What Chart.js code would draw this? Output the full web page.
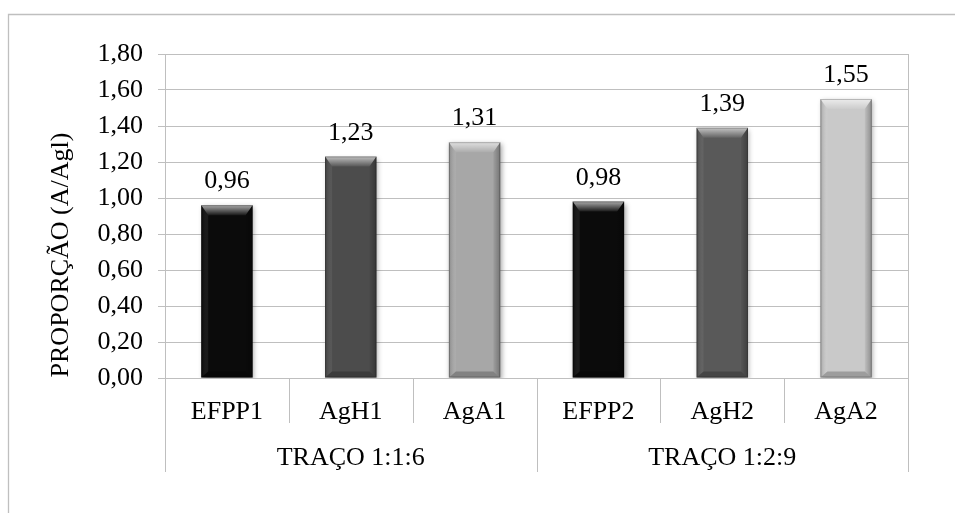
<!DOCTYPE html>
<html>
<head>
<meta charset="utf-8">
<script src="https://cdn.jsdelivr.net/npm/chart.js@4/dist/chart.umd.min.js"></script>
<style>
  html, body { margin: 0; padding: 0; background: #fff; }
  #wrap { width: 955px; height: 513px; position: relative; }
</style>
</head>
<body>
<div id="wrap"><canvas id="c" width="955" height="513"></canvas></div>
<script>
// Mix proportions and their measured A/Agl ratio
const categories = ['EFPP1', 'AgH1', 'AgA1', 'EFPP2', 'AgH2', 'AgA2'];
const groups = ['TRAÇO 1:1:6', 'TRAÇO 1:2:9'];
const groupSize = 3;
const ratios = [0.96, 1.23, 1.31, 0.98, 1.39, 1.55];
const yTicks = [0, 0.2, 0.4, 0.6, 0.8, 1.0, 1.2, 1.4, 1.6, 1.8];
const yTitle = 'PROPORÇÃO (A/Agl)';

const barColors = ['#0b0b0b', '#4c4c4c', '#a7a7a7', '#0b0b0b', '#595959', '#c9c9c9'];
const FONT = '26px "Liberation Serif", "Times New Roman", serif';
const LINE = '#bfbfbf';
const fmt = v => Number(v).toFixed(2).replace('.', ',');

// outer frame, axis title, category labels and separators
const decorPlugin = {
  id: 'decor',
  beforeDraw(chart) {
    const ctx = chart.ctx;
    ctx.save();
    ctx.strokeStyle = LINE;
    ctx.lineWidth = 1.3;
    ctx.beginPath();
    ctx.moveTo(8.5, chart.height + 2);
    ctx.lineTo(8.5, 14.5);
    ctx.lineTo(chart.width + 2, 14.5);
    ctx.stroke();
    ctx.restore();
  },
  afterDraw(chart) {
    const ctx = chart.ctx;
    const x = chart.scales.x;
    const area = chart.chartArea;
    const step = x.getPixelForValue(1) - x.getPixelForValue(0);
    ctx.save();
    ctx.strokeStyle = LINE;
    ctx.lineWidth = 1;
    ctx.beginPath();
    // right edge of plot area
    ctx.moveTo(Math.round(area.right) + 0.5, area.top);
    ctx.lineTo(Math.round(area.right) + 0.5, 472);
    // separators between categories and groups
    for (let i = 0; i <= categories.length; i++) {
      const px = Math.round(x.getPixelForValue(i) - step / 2) + 0.5;
      const isGroup = i % groupSize === 0;
      ctx.moveTo(px, area.bottom);
      ctx.lineTo(px, isGroup ? 472 : 423);
    }
    ctx.stroke();

    ctx.fillStyle = '#000';
    ctx.font = FONT;
    ctx.textAlign = 'center';
    ctx.textBaseline = 'alphabetic';
    categories.forEach((c, i) => ctx.fillText(c, x.getPixelForValue(i), 419));
    groups.forEach((g, gi) => {
      const a = x.getPixelForValue(gi * groupSize);
      const b = x.getPixelForValue(gi * groupSize + groupSize - 1);
      ctx.fillText(g, (a + b) / 2, 465);
    });

    // y axis title
    ctx.save();
    ctx.translate(68, 255);
    ctx.rotate(-Math.PI / 2);
    ctx.fillText(yTitle, 0, 0);
    ctx.restore();
    ctx.restore();
  }
};

// soft shadow under the bars
const shadowPlugin = {
  id: 'barShadow',
  beforeDatasetsDraw(chart) {
    const ctx = chart.ctx;
    ctx.save();
    ctx.shadowColor = 'rgba(0,0,0,0.35)';
    ctx.shadowBlur = 5;
    ctx.shadowOffsetX = 1.5;
    ctx.shadowOffsetY = 2;
  },
  afterDatasetsDraw(chart) {
    chart.ctx.restore();
  }
};

// bevel faces and value labels on each bar
const bevelPlugin = {
  id: 'bevel',
  afterDatasetsDraw(chart) {
    const ctx = chart.ctx;
    const meta = chart.getDatasetMeta(0);
    meta.data.forEach((bar, i) => {
      const p = bar.getProps(['x', 'y', 'base', 'width'], true);
      const l = p.x - p.width / 2, r = p.x + p.width / 2;
      const t = p.y, b = p.base;
      const bt = 10, bs = 7, bb = 6;
      ctx.save();
      // top face
      let g = ctx.createLinearGradient(0, t, 0, t + bt);
      g.addColorStop(0, 'rgba(255,255,255,0.65)');
      g.addColorStop(1, 'rgba(255,255,255,0.06)');
      ctx.fillStyle = g;
      ctx.beginPath();
      ctx.moveTo(l, t); ctx.lineTo(r, t); ctx.lineTo(r - bs, t + bt); ctx.lineTo(l + bs, t + bt);
      ctx.closePath(); ctx.fill();
      // left face
      g = ctx.createLinearGradient(l, 0, l + bs, 0);
      g.addColorStop(0, 'rgba(0,0,0,0.18)');
      g.addColorStop(1, 'rgba(255,255,255,0.06)');
      ctx.fillStyle = g;
      ctx.beginPath();
      ctx.moveTo(l, t); ctx.lineTo(l + bs, t + bt); ctx.lineTo(l + bs, b - bb); ctx.lineTo(l, b);
      ctx.closePath(); ctx.fill();
      // right face
      g = ctx.createLinearGradient(r - bs, 0, r, 0);
      g.addColorStop(0, 'rgba(0,0,0,0.05)');
      g.addColorStop(1, 'rgba(0,0,0,0.3)');
      ctx.fillStyle = g;
      ctx.beginPath();
      ctx.moveTo(r, t); ctx.lineTo(r - bs, t + bt); ctx.lineTo(r - bs, b - bb); ctx.lineTo(r, b);
      ctx.closePath(); ctx.fill();
      // bottom face
      ctx.fillStyle = 'rgba(0,0,0,0.22)';
      ctx.beginPath();
      ctx.moveTo(l, b); ctx.lineTo(r, b); ctx.lineTo(r - bs, b - bb); ctx.lineTo(l + bs, b - bb);
      ctx.closePath(); ctx.fill();
      // outline
      ctx.strokeStyle = 'rgba(0,0,0,0.22)';
      ctx.lineWidth = 1;
      ctx.strokeRect(l + 0.5, t + 0.5, p.width - 1, b - t - 1);
      ctx.restore();

      // value label
      ctx.save();
      ctx.fillStyle = '#000';
      ctx.font = FONT;
      ctx.textAlign = 'center';
      ctx.textBaseline = 'alphabetic';
      ctx.fillText(fmt(ratios[i]), p.x, t - 17);
      ctx.restore();
    });
  }
};

new Chart(document.getElementById('c'), {
  type: 'bar',
  data: {
    labels: categories,
    datasets: [{
      data: ratios,
      backgroundColor: barColors,
      borderWidth: 0,
      categoryPercentage: 1,
      barPercentage: 0.415
    }]
  },
  options: {
    responsive: false,
    animation: false,
    devicePixelRatio: 1,
    layout: { padding: { left: 0, right: 47, top: 54, bottom: 135 } },
    plugins: { legend: { display: false }, tooltip: { enabled: false } },
    scales: {
      x: { display: false },
      y: {
        min: 0,
        max: 1.8,
        afterFit(scale) { scale.width = 165; },
        afterBuildTicks(scale) { scale.ticks = yTicks.map(v => ({ value: v })); },
        ticks: {
          padding: 15,
          color: '#000',
          font: { family: '"Liberation Serif", "Times New Roman", serif', size: 26 },
          callback: v => fmt(v)
        },
        grid: { color: LINE, lineWidth: 1, tickLength: 7, drawTicks: true },
        border: { color: LINE, width: 1 }
      }
    }
  },
  plugins: [decorPlugin, shadowPlugin, bevelPlugin]
});
</script>
</body>
</html>
